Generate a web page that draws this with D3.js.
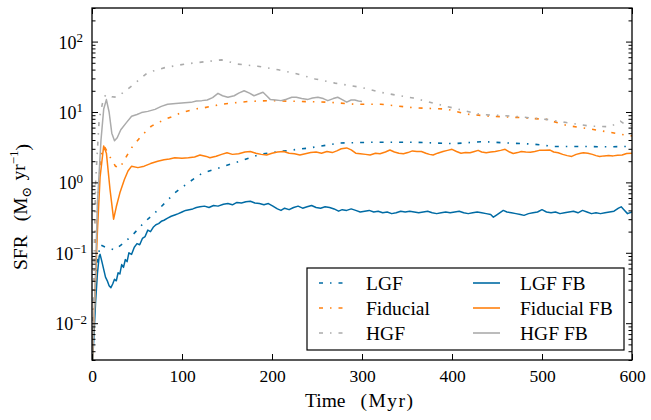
<!DOCTYPE html>
<html>
<head>
<meta charset="utf-8">
<script src="https://cdn.jsdelivr.net/npm/d3@7"></script>
<style>
body { margin: 0; background: #fff; }
svg, svg text { font-family: "Liberation Serif", "Times New Roman", "DejaVu Serif", serif; }
</style>
</head>
<body>
<div id="chart"></div>
<script>
// series (time in Myr, SFR in Msun/yr)
var lgfT = [0, 4, 9, 15, 25, 36, 47, 58, 70, 81, 92, 107, 120, 125, 142, 164, 187, 209, 242, 276, 313, 357, 402, 435, 461, 490, 513, 542, 572, 594, 600]
var lgfV = [0.003, 0.05, 0.13, 0.12, 0.11, 0.14, 0.19, 0.27, 0.37, 0.51, 0.71, 0.99, 1.29, 1.38, 1.62, 2.0, 2.51, 2.75, 3.09, 3.63, 3.72, 3.72, 3.55, 3.8, 3.63, 3.5, 3.24, 3.24, 3.2, 3.24, 3.2]

var fidT = [0, 5, 10, 14, 20, 26, 31, 37, 44, 55, 66, 81, 92, 99, 114, 125, 144, 173, 196, 233, 262, 292, 321, 357, 394, 416, 442, 476, 505, 527, 553, 576, 594, 600]
var fidV = [0.003, 0.3, 2.5, 3.2, 2.3, 1.7, 1.6, 2.2, 3.1, 4.6, 6.3, 7.85, 8.9, 9.77, 11.0, 11.5, 12.9, 14.1, 14.5, 14.1, 13.8, 12.9, 12.9, 11.5, 11.0, 9.33, 8.71, 8.32, 7.85, 6.46, 5.75, 5.13, 4.68, 4.57]

var hgfT = [0, 4, 8, 13, 16, 22, 27, 35, 44, 62, 81, 103, 126, 144, 162, 184, 207, 225, 248, 270, 299, 320, 342, 357, 394, 431, 468, 505, 527, 553, 576, 587, 594, 600]
var hgfV = [0.003, 1, 8, 16, 17.8, 16.5, 16.2, 19, 23.4, 36.3, 42.7, 47.9, 51.9, 55, 47.9, 44.7, 39.8, 35.5, 29.5, 25.7, 22.4, 19.1, 17.0, 15.8, 12.0, 9.25, 8.71, 7.85, 7.08, 6.31, 6.17, 7.41, 6.46, 6.4]

var lgfFbT = [0, 2, 4, 6, 8, 9, 11, 13, 15, 17, 19, 21, 23, 25, 27, 29, 31, 33, 35, 37, 39, 41, 44, 47, 50, 53, 56, 59, 62, 65, 68, 71, 74, 77, 80, 84, 88, 92, 96, 100, 104, 108, 112, 116, 120, 125, 130, 135, 140, 146, 151, 156, 161, 166, 171, 176, 181, 186, 191, 196, 201, 206, 210, 214, 219, 224, 229, 234, 239, 244, 249, 254, 259, 264, 269, 274, 278, 283, 288, 293, 298, 303, 308, 313, 318, 323, 328, 333, 338, 343, 348, 353, 358, 363, 368, 373, 378, 383, 388, 393, 398, 403, 408, 413, 418, 423, 428, 433, 438, 443, 446, 449, 453, 457, 461, 466, 471, 476, 480, 485, 490, 495, 500, 505, 510, 515, 520, 525, 530, 535, 540, 545, 550, 555, 560, 565, 570, 575, 580, 585, 588, 591, 595, 600]
var lgfFbV = [0.002, 0.006, 0.02, 0.05, 0.09, 0.095, 0.075, 0.058, 0.045, 0.04, 0.034, 0.032, 0.036, 0.042, 0.04, 0.052, 0.05, 0.068, 0.062, 0.08, 0.075, 0.1, 0.095, 0.12, 0.135, 0.13, 0.16, 0.17, 0.21, 0.2, 0.23, 0.25, 0.26, 0.28, 0.29, 0.31, 0.33, 0.345, 0.36, 0.38, 0.4, 0.41, 0.42, 0.44, 0.45, 0.46, 0.44, 0.47, 0.46, 0.49, 0.5, 0.48, 0.52, 0.51, 0.53, 0.54, 0.51, 0.5, 0.48, 0.5, 0.46, 0.42, 0.4, 0.43, 0.41, 0.44, 0.46, 0.43, 0.45, 0.47, 0.44, 0.43, 0.45, 0.44, 0.42, 0.39, 0.41, 0.4, 0.42, 0.4, 0.38, 0.39, 0.4, 0.38, 0.39, 0.37, 0.38, 0.36, 0.37, 0.39, 0.38, 0.39, 0.38, 0.37, 0.38, 0.39, 0.37, 0.36, 0.37, 0.38, 0.37, 0.38, 0.39, 0.37, 0.36, 0.37, 0.38, 0.37, 0.36, 0.35, 0.32, 0.34, 0.37, 0.4, 0.38, 0.37, 0.36, 0.35, 0.34, 0.36, 0.37, 0.38, 0.41, 0.38, 0.37, 0.38, 0.36, 0.37, 0.38, 0.39, 0.37, 0.4, 0.38, 0.36, 0.37, 0.36, 0.37, 0.38, 0.39, 0.43, 0.45, 0.41, 0.36, 0.38]

var fidFbT = [0, 3, 6, 9, 13, 16, 20, 24, 27, 31, 36, 40, 44, 51, 58, 65, 73, 80, 86, 92, 100, 107, 114, 120, 127, 131, 138, 144, 150, 156, 163, 170, 176, 182, 188, 194, 200, 206, 213, 219, 225, 231, 237, 243, 249, 255, 261, 267, 272, 277, 283, 288, 293, 298, 304, 309, 315, 320, 326, 331, 336, 341, 346, 351, 356, 361, 366, 371, 375, 379, 384, 390, 395, 400, 405, 410, 415, 420, 425, 429, 433, 438, 443, 448, 454, 459, 464, 468, 473, 477, 482, 487, 492, 497, 503, 509, 513, 518, 523, 528, 533, 538, 543, 546, 551, 556, 560, 564, 569, 574, 579, 584, 589, 594, 600]
var fidFbV = [0.002, 0.02, 0.2, 1.2, 3.3, 2.6, 0.8, 0.3, 0.45, 0.71, 1.1, 1.45, 1.7, 1.62, 1.7, 1.85, 2.0, 2.1, 2.15, 2.24, 2.2, 2.24, 2.3, 2.45, 2.34, 2.24, 2.35, 2.5, 2.63, 2.5, 2.55, 2.7, 2.75, 2.6, 2.5, 2.45, 2.6, 2.7, 2.75, 2.6, 2.55, 2.45, 2.55, 2.65, 2.7, 2.6, 2.75, 2.65, 2.8, 3.0, 3.09, 2.9, 2.6, 2.55, 2.5, 2.45, 2.6, 2.55, 2.7, 2.88, 2.7, 2.6, 2.55, 2.65, 2.8, 2.75, 2.75, 2.6, 2.5, 2.45, 2.6, 2.75, 2.85, 2.95, 2.75, 2.6, 2.65, 2.63, 2.75, 2.85, 2.7, 2.63, 2.7, 2.75, 2.85, 2.95, 2.7, 2.57, 2.65, 2.75, 2.7, 2.69, 2.75, 2.85, 2.85, 2.88, 2.7, 2.63, 2.5, 2.4, 2.34, 2.5, 2.6, 2.63, 2.6, 2.5, 2.4, 2.34, 2.38, 2.4, 2.38, 2.42, 2.45, 2.57, 2.6]

var hgfFbT = [0, 3, 6, 10, 13, 16, 19, 22, 25, 28, 32, 38, 44, 50, 55, 62, 70, 77, 84, 93, 103, 110, 116, 122, 128, 134, 140, 145, 151, 158, 163, 169, 175, 180, 185, 190, 194, 198, 204, 210, 216, 222, 227, 233, 240, 245, 251, 257, 262, 268, 273, 278, 283, 288, 292, 296, 300]
var hgfFbV = [0.002, 0.02, 0.5, 4, 11, 15, 10, 5, 3.9, 4.3, 5.6, 7, 8.7, 9.2, 9.8, 10.2, 10.9, 12, 12.9, 13.2, 13.5, 13.7, 14.3, 14.5, 14.8, 16, 18.4, 17, 16.2, 17, 18.5, 20, 18.5, 17, 18, 19.1, 17, 15.1, 14.8, 14.5, 15.2, 16.2, 16.2, 15.5, 15.1, 15.8, 16.2, 15.5, 14.5, 15.5, 16.2, 15, 13.8, 14.8, 14.8, 14.3, 14.1]

var xTicks = [0, 100, 200, 300, 400, 500, 600]
var yMajor = [0.01, 0.1, 1, 10, 100]
var yExp = ["\u22122", "\u22121", "0", "1", "2"]

var blue = "#006BA4", orange = "#FF800E", grey = "#ABABAB"

var series = [
    {name: "LGF", t: lgfT, v: lgfV, color: blue, dash: true},
    {name: "Fiducial", t: fidT, v: fidV, color: orange, dash: true},
    {name: "HGF", t: hgfT, v: hgfV, color: grey, dash: true},
    {name: "LGF FB", t: lgfFbT, v: lgfFbV, color: blue, dash: false},
    {name: "Fiducial FB", t: fidFbT, v: fidFbV, color: orange, dash: false},
    {name: "HGF FB", t: hgfFbT, v: hgfFbV, color: grey, dash: false}
]

var W = 651, H = 420
var pL = 92, pR = 632, pT = 8, pB = 360
var dashPattern = "4,7,1.5,7"
var serif = "'Liberation Serif', 'Times New Roman', 'DejaVu Serif', serif"

var svg = d3.select("#chart").append("svg")
    .attr("width", W).attr("height", H)
    .style("font-family", serif)

var x = d3.scaleLinear().domain([0, 600]).range([pL, pR])
var y = d3.scaleLog().domain([0.003, 300]).range([pB, pT])

svg.append("clipPath").attr("id", "clip")
    .append("rect")
    .attr("x", pL).attr("y", pT)
    .attr("width", pR - pL).attr("height", pB - pT)

var line = d3.line()
    .x(function(d){ return x(d[0]) })
    .y(function(d){ return y(d[1]) })

var plot = svg.append("g").attr("clip-path", "url(#clip)")

series.forEach(function(s){
    plot.append("path")
        .datum(d3.zip(s.t, s.v))
        .attr("d", line)
        .attr("fill", "none")
        .attr("stroke", s.color)
        .attr("stroke-width", s.dash ? 1.6 : 1.5)
        .attr("stroke-linejoin", "round")
        .attr("stroke-dasharray", s.dash ? dashPattern : null)
})

// minor log ticks
var yMinor = []
for (var e = -3; e <= 2; e++) {
    for (var m = 2; m <= 9; m++) {
        var val = m * Math.pow(10, e)
        if (val >= 0.003 && val <= 300) yMinor.push(val)
    }
}

function styleAxis(g){
    g.select(".domain").remove()
    g.attr("font-family", serif).attr("font-size", null)
    g.selectAll("line").attr("stroke", "#000").attr("stroke-width", 1)
}

// bottom
svg.append("g")
    .attr("transform", "translate(0," + pB + ")")
    .call(d3.axisBottom(x).tickValues(xTicks).tickSize(-6).tickPadding(9.5))
    .call(styleAxis)
    .selectAll("text").style("font-size", "17.5px").style("font-family", serif)

// top
svg.append("g")
    .attr("transform", "translate(0," + pT + ")")
    .call(d3.axisTop(x).tickValues(xTicks).tickSize(-6).tickFormat(""))
    .call(styleAxis)

// left major
var leftAxis = svg.append("g")
    .attr("transform", "translate(" + pL + ",0)")
    .call(d3.axisLeft(y).tickValues(yMajor).tickSize(-6).tickFormat(""))
    .call(styleAxis)

leftAxis.selectAll(".tick").each(function(d, i){
    var t = d3.select(this).select("text")
    var neg = yExp[i].indexOf("\u2212") === 0
    t.attr("x", neg ? -5 : -9).attr("dy", "0.36em")
        .style("font-size", "18px").style("font-family", serif)
        .attr("text-anchor", "end")
    t.append("tspan").text("10")
    t.append("tspan").attr("dy", "-0.5em").style("font-size", "13px").text(yExp[i])
})

svg.append("g")
    .attr("transform", "translate(" + pL + ",0)")
    .call(d3.axisLeft(y).tickValues(yMinor).tickSize(-3.5).tickFormat(""))
    .call(styleAxis)

// right
svg.append("g")
    .attr("transform", "translate(" + pR + ",0)")
    .call(d3.axisRight(y).tickValues(yMajor).tickSize(-6).tickFormat(""))
    .call(styleAxis)
svg.append("g")
    .attr("transform", "translate(" + pR + ",0)")
    .call(d3.axisRight(y).tickValues(yMinor).tickSize(-3.5).tickFormat(""))
    .call(styleAxis)

// frame
svg.append("rect")
    .attr("x", pL).attr("y", pT)
    .attr("width", pR - pL).attr("height", pB - pT)
    .attr("fill", "none").attr("stroke", "#000").attr("stroke-width", 1.3)

// axis labels
var xlab = svg.append("text")
    .attr("x", 305).attr("y", 407)
    .style("font-size", "19.5px").style("font-family", serif)
xlab.append("tspan").text("Time")
xlab.append("tspan").attr("dx", 15).style("letter-spacing", "1.5px").text("(Myr)")

var ylab = svg.append("text")
    .attr("transform", "translate(27,270) rotate(-90)")
    .style("font-size", "19.5px").style("font-family", serif)
ylab.append("tspan").text("SFR")
ylab.append("tspan").attr("dx", 14).text("(M")
ylab.append("tspan").attr("dy", "0.3em").style("font-size", "13px").text("\u2299")
ylab.append("tspan").attr("dy", "-0.3em").attr("dx", 6).text("yr")
ylab.append("tspan").attr("dy", "-0.55em").style("font-size", "13px").text("\u22121")
ylab.append("tspan").attr("dy", "0.55em").text(")")

// legend
var legend = svg.append("g")
legend.append("rect")
    .attr("x", 307).attr("y", 268).attr("width", 317).attr("height", 82)
    .attr("fill", "#fff").attr("stroke", "#000").attr("stroke-width", 1.2)

var rowY = [283, 308, 333]
var colX = [319, 473]
series.forEach(function(s, i){
    var col = s.dash ? 0 : 1
    var row = i % 3
    legend.append("line")
        .attr("x1", colX[col]).attr("x2", colX[col] + 27)
        .attr("y1", rowY[row]).attr("y2", rowY[row])
        .attr("stroke", s.color).attr("stroke-width", 1.6)
        .attr("stroke-dasharray", s.dash ? dashPattern : null)
    legend.append("text")
        .attr("x", colX[col] + 47).attr("y", rowY[row] + 6.5)
        .style("font-size", "19.5px").style("font-family", serif)
        .text(s.name)
})
</script>
</body>
</html>
